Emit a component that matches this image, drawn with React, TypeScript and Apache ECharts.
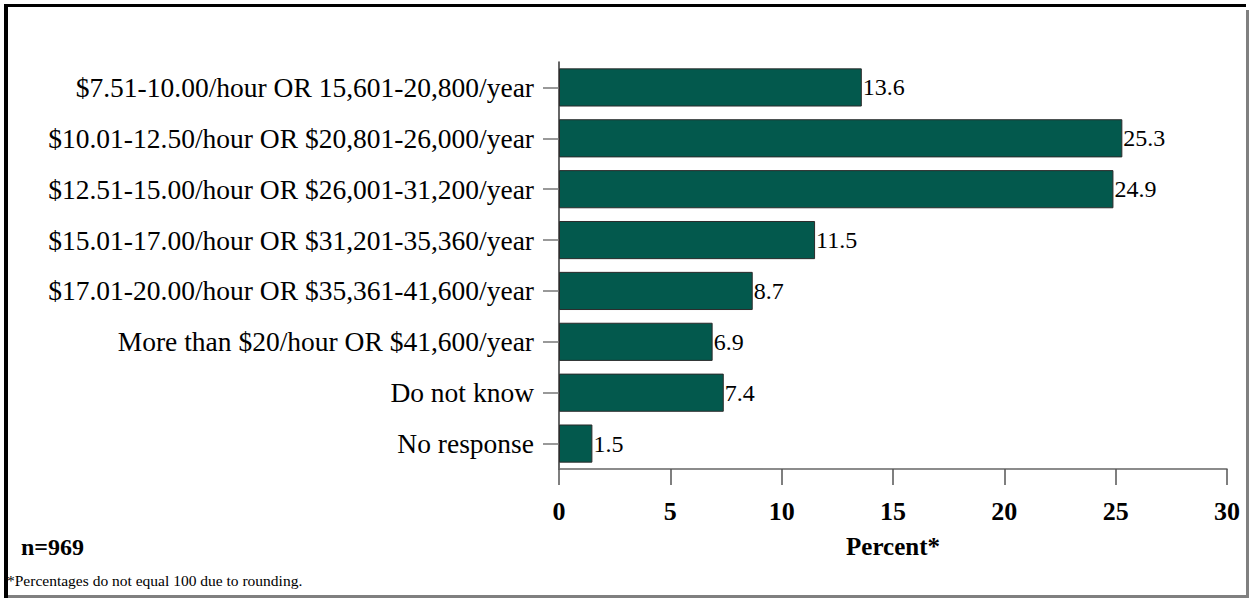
import React, { useEffect, useRef } from "react";
import * as echarts from "echarts";

const categories = [
  "$7.51-10.00/hour OR 15,601-20,800/year",
  "$10.01-12.50/hour OR $20,801-26,000/year",
  "$12.51-15.00/hour OR $26,001-31,200/year",
  "$15.01-17.00/hour OR $31,201-35,360/year",
  "$17.01-20.00/hour OR $35,361-41,600/year",
  "More than $20/hour OR $41,600/year",
  "Do not know",
  "No response",
];
const values = [13.6, 25.3, 24.9, 11.5, 8.7, 6.9, 7.4, 1.5];
const xTicks = [0, 5, 10, 15, 20, 25, 30];

const FONT = '"Liberation Serif", "Times New Roman", serif';

export default function App() {
  const ref = useRef<HTMLDivElement>(null);
  useEffect(() => {
    if (!ref.current) return;
    const chart = echarts.init(ref.current, null, { renderer: "svg" });
    chart.setOption({
      animation: false,
      backgroundColor: "#ffffff",
      grid: { left: 559, right: 23, top: 62, bottom: 129, containLabel: false },
      xAxis: {
        type: "value",
        min: xTicks[0],
        max: xTicks[xTicks.length - 1],
        interval: 5,
        axisLine: { show: true, lineStyle: { color: "#666", width: 1.5 } },
        axisTick: { show: true, length: 16, lineStyle: { color: "#555", width: 1.5 } },
        axisLabel: { margin: 29, fontFamily: FONT, fontSize: 26, fontWeight: "bold", color: "#000" },
        splitLine: { show: false },
      },
      yAxis: {
        type: "category",
        data: categories,
        inverse: true,
        axisLine: { show: true, lineStyle: { color: "#333", width: 1.5 } },
        axisTick: { show: true, alignWithLabel: true, length: 16, lineStyle: { color: "#777", width: 1.5 } },
        axisLabel: { margin: 25, fontFamily: FONT, fontSize: 27.5, color: "#000" },
      },
      series: [
        {
          type: "bar",
          data: values,
          barCategoryGap: "25%",
          itemStyle: { color: "#03594d", borderColor: "#2b2b2b", borderWidth: 1 },
          label: {
            show: true,
            position: "right",
            distance: 1,
            fontFamily: FONT,
            fontSize: 24,
            color: "#000",
            formatter: (p: any) => Number(p.value).toFixed(1),
          },
        },
      ],
      graphic: [
        { type: "rect", shape: { x: 4, y: 4, width: 1242, height: 3 }, style: { fill: "#000" } },
        { type: "rect", shape: { x: 4, y: 4, width: 4, height: 594 }, style: { fill: "#000" } },
        { type: "rect", shape: { x: 1246, y: 10, width: 3, height: 588 }, style: { fill: "#808080" } },
        { type: "rect", shape: { x: 8, y: 595, width: 1241, height: 3 }, style: { fill: "#808080" } },
        {
          type: "text",
          x: 893,
          y: 546,
          style: { text: "Percent*", fontFamily: FONT, fontSize: 25, fontWeight: "bold", fill: "#000", align: "center", verticalAlign: "middle" },
        },
        {
          type: "text",
          x: 21,
          y: 547,
          style: { text: "n=969", fontFamily: FONT, fontSize: 24, fontWeight: "bold", fill: "#000", align: "left", verticalAlign: "middle" },
        },
        {
          type: "text",
          x: 7,
          y: 580,
          style: { text: "*Percentages do not equal 100 due to rounding.", fontFamily: FONT, fontSize: 15.5, fill: "#000", align: "left", verticalAlign: "middle" },
        },
      ],
    });
    return () => chart.dispose();
  }, []);
  return (
    <div style={{ position: "fixed", left: 0, top: 0, width: 1250, height: 598, background: "#fff" }}>
      <div ref={ref} style={{ width: 1250, height: 598 }} />
    </div>
  );
}
